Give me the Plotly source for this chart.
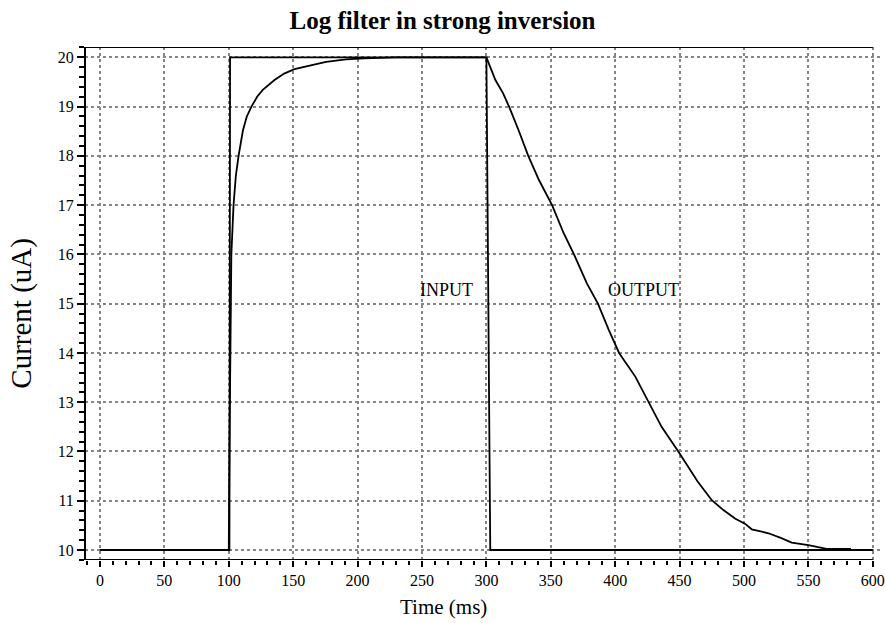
import plotly.graph_objects as go

# Data
input_t = [0, 100.5, 101, 300, 303, 600]
input_i = [10, 10, 20, 20, 10, 10]

output_t = [0, 100, 100.5, 101, 102, 103.7, 105.5, 107.6, 111, 114, 117.6, 122, 126.4,
            135.5, 143, 151, 165, 175.5, 191, 205, 230, 300, 303, 307, 313, 317.6, 325,
            332.5, 340.8, 351, 360, 368, 378, 386.6, 395, 403, 415.6, 426, 436, 449,
            464, 475, 484, 493, 501, 506, 519, 529, 537, 550, 558, 565, 583]
output_i = [10, 10, 12, 14, 16, 17, 17.6, 18, 18.52, 18.8, 19, 19.2, 19.34,
            19.54, 19.67, 19.76, 19.84, 19.91, 19.96, 19.98, 20, 20, 19.8, 19.54, 19.27, 19, 18.52,
            18, 17.51, 17, 16.43, 16, 15.41, 15, 14.47, 14, 13.52, 13, 12.5, 12,
            11.39, 11.01, 10.81, 10.64, 10.53, 10.42, 10.34, 10.24, 10.15, 10.10, 10.05, 10.02, 10.02]

x_ticks = [0, 50, 100, 150, 200, 250, 300, 350, 400, 450, 500, 550, 600]
y_ticks = [10, 11, 12, 13, 14, 15, 16, 17, 18, 19, 20]

labels = [("INPUT", 269, 15.28), ("OUTPUT", 422, 15.28)]

FONT = "Liberation Serif"
X_RANGE = [-11.62, 607.9]
Y_RANGE = [9.797, 20.21]
X_END = 600

fig = go.Figure()
fig.add_trace(go.Scatter(x=input_t, y=input_i, mode="lines",
                         line=dict(color="black", width=1.8), showlegend=False))
fig.add_trace(go.Scatter(x=output_t, y=output_i, mode="lines",
                         line=dict(color="black", width=1.8), showlegend=False))

for txt, x, y in labels:
    fig.add_annotation(x=x, y=y, text=txt, showarrow=False,
                       font=dict(family=FONT, size=18, color="black"))

# axis frame lines (left, bottom, top)
fig.add_shape(type="line", xref="paper", yref="paper", x0=0, x1=0, y0=0, y1=1,
              line=dict(color="black", width=2))
fig.add_shape(type="line", xref="x", yref="y", x0=X_RANGE[0], x1=X_END, y0=Y_RANGE[0], y1=Y_RANGE[0],
              line=dict(color="black", width=2))
fig.add_shape(type="line", xref="x", yref="y", x0=X_RANGE[0], x1=X_END, y0=Y_RANGE[1], y1=Y_RANGE[1],
              line=dict(color="black", width=2))

fig.add_annotation(xref="paper", yref="paper", x=0.449, y=-0.0916, yanchor="middle",
                   text="Time (ms)", showarrow=False,
                   font=dict(family=FONT, size=21, color="black"))
fig.add_annotation(xref="paper", yref="paper", x=-0.079, y=0.482, xanchor="center",
                   yanchor="middle",
                   text="Current (uA)", showarrow=False, textangle=-90,
                   font=dict(family=FONT, size=29, color="black"))

fig.update_layout(
    width=885, height=623,
    margin=dict(l=85, r=0, t=47, b=63),
    paper_bgcolor="white", plot_bgcolor="white",
    title=dict(text="<b>Log filter in strong inversion</b>", x=0.5, xanchor="center",
               y=0.968, yanchor="middle",
               font=dict(family=FONT, size=25, color="black")),
    font=dict(family=FONT, color="black"),
)
fig.update_xaxes(range=X_RANGE, tickvals=x_ticks, ticks="outside", ticklen=6, tickwidth=1.5,
                 tickcolor="black", showline=False, zeroline=False, ticklabeloverflow="allow",
                 showgrid=True, gridcolor="#858585", griddash="dot", gridwidth=1.5,
                 tickfont=dict(family=FONT, size=16, color="black"),
                 minor=dict(dtick=10, tick0=0, ticks="outside", ticklen=4, tickwidth=1.5,
                            tickcolor="black", showgrid=False))
fig.update_yaxes(range=Y_RANGE, tickvals=y_ticks, ticks="outside", ticklen=7, tickwidth=1.5,
                 tickcolor="black", showline=False, zeroline=False,
                 showgrid=True, gridcolor="#858585", griddash="dot", gridwidth=1.5,
                 tickfont=dict(family=FONT, size=16, color="black"),
                 minor=dict(dtick=0.2, tick0=10, ticks="outside", ticklen=5, tickwidth=1.5,
                            tickcolor="black", showgrid=False))

fig.write_html("out.html")
